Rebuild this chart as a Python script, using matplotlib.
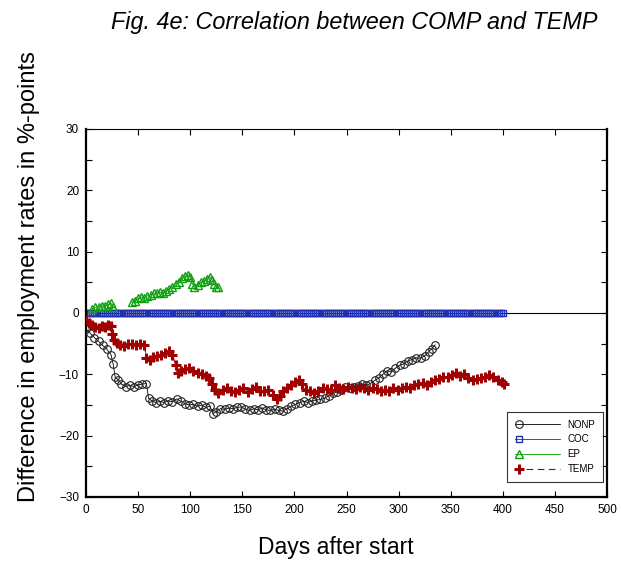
import numpy as np
import matplotlib
matplotlib.use("Agg")
import matplotlib.pyplot as plt
from matplotlib.lines import Line2D
from matplotlib.legend_handler import HandlerLine2D

plt.rcParams['font.family'] = ['Liberation Sans', 'DejaVu Sans']

# NONP series (days, difference in %-points)
nonp_days = [0, 4, 8, 12, 16, 20, 24, 26, 28, 31, 34, 38, 42, 46, 50, 54, 58,
             60, 63, 67, 71, 75, 79, 83, 87, 91, 95, 99, 103, 107, 111, 115, 119,
             122, 125, 129, 133, 137, 141, 145, 149, 153, 157, 161, 165, 169, 173,
             177, 181, 185, 189, 193, 197, 201, 205, 209, 213, 217, 221, 225, 229,
             233, 237, 241, 245, 249, 253, 257, 261, 265, 269, 273, 277, 281, 285,
             289, 293, 297, 301, 305, 309, 313, 317, 321, 325, 329, 332, 335]
nonp_vals = [-2.6, -3.3, -4.0, -4.6, -5.3, -5.9, -6.8, -8.3, -10.5, -10.9, -11.6,
             -12.0, -11.8, -12.0, -11.7, -11.6, -11.5,
             -13.9, -14.3, -14.6, -14.4, -14.6, -14.3, -14.5, -14.0, -14.4, -14.8,
             -15.0, -14.9, -15.2, -15.0, -15.4, -15.2,
             -16.4, -16.1, -15.6, -15.7, -15.5, -15.6, -15.4, -15.3, -15.7, -15.9,
             -15.6, -15.8, -15.5, -15.8, -15.9, -15.7, -15.9, -16.0, -15.6, -15.2,
             -14.9, -14.6, -14.4, -14.6, -14.3, -14.2, -14.1, -13.9, -13.5, -13.1,
             -12.9, -12.6, -12.0, -12.3, -12.0, -11.9, -11.6, -11.8, -11.5, -11.0,
             -10.6, -10.0, -9.4, -9.6, -9.0, -8.5, -8.3, -7.8, -7.6, -7.3, -7.4,
             -7.0, -6.3, -5.8, -5.2]

# COC series: flat at zero up to day 400
coc_days = list(range(0, 401, 2))
coc_vals = [0.0] * len(coc_days)

# EP series (gap between the two stretches)
ep_days = [6, 9, 12, 15, 18, 21, 24, 26, 35, 44, 47, 50, 53, 56, 59, 62, 65, 68,
           71, 74, 77, 80, 83, 86, 89, 92, 95, 98, 100, 102, 104, 107, 110, 113,
           116, 119, 121, 123, 125, 127]
ep_vals = [0.6, 0.9, 1.0, 1.2, 1.1, 1.4, 1.6, 1.0, np.nan, 1.8, 2.0, 2.4, 2.6,
           2.5, 2.8, 3.0, 3.2, 3.3, 3.4, 3.3, 3.6, 3.9, 4.3, 4.8, 5.0, 5.7, 6.0,
           6.2, 5.9, 4.8, 4.2, 4.6, 5.0, 5.2, 5.6, 5.9, 5.4, 4.8, 4.3, 4.2]

# TEMP series
temp_days = [0, 3, 6, 9, 12, 15, 18, 21, 24, 25, 27, 30, 33, 36, 40, 44, 48, 52,
             56, 58, 61, 64, 68, 72, 76, 80, 83, 86, 88, 91, 95, 99, 103, 107, 111,
             115, 118, 121, 124, 127, 131, 135, 139, 143, 147, 151, 155, 159, 163,
             167, 171, 175, 179, 183, 186, 189, 193, 197, 201, 204, 207, 211, 215,
             219, 223, 227, 231, 235, 239, 243, 247, 251, 255, 259, 263, 267, 271,
             275, 279, 283, 287, 291, 295, 299, 303, 307, 311, 315, 319, 323, 327,
             331, 335, 339, 343, 347, 351, 355, 359, 363, 367, 371, 375, 379, 383,
             387, 391, 395, 399, 401]
temp_vals = [-1.2, -1.6, -2.0, -2.3, -2.4, -2.2, -2.3, -2.0, -2.1, -3.5, -4.4,
             -4.9, -5.3, -5.4, -5.0, -5.1, -5.3, -5.0, -5.2, -7.3, -7.6, -7.2,
             -7.0, -6.8, -6.5, -6.2, -6.8, -8.5, -9.8, -9.4, -9.2, -9.0, -9.5,
             -9.8, -10.0, -10.3, -10.6, -11.5, -12.6, -13.0, -12.6, -12.3, -12.7,
             -12.9, -12.6, -12.3, -12.9, -12.4, -12.1, -12.7, -12.8, -12.5, -13.3,
             -14.0, -13.6, -12.8, -12.3, -11.8, -11.3, -11.0, -11.6, -12.6, -12.8,
             -13.0, -12.7, -12.3, -12.4, -12.6, -11.8, -12.2, -12.4, -12.0, -12.2,
             -12.4, -12.0, -12.3, -12.6, -12.2, -12.4, -12.8, -12.5, -12.7, -12.2,
             -12.5, -12.3, -12.0, -12.2, -11.8, -11.6, -11.4, -11.7, -11.3, -11.0,
             -10.8, -10.5, -10.4, -10.1, -9.8, -10.3, -9.9, -10.6, -11.0, -10.8,
             -10.6, -10.4, -10.1, -10.5, -11.0, -11.3, -11.5]


class LeftMarkerHandler(HandlerLine2D):
    # put the legend marker near the left end of the sample line
    def create_artists(self, legend, orig_handle, xdescent, ydescent, width,
                       height, fontsize, trans):
        arts = super().create_artists(legend, orig_handle, xdescent, ydescent,
                                      width, height, fontsize, trans)
        line = arts[0]
        xd = np.asarray(line.get_xdata(), dtype=float)
        yd = np.asarray(line.get_ydata(), dtype=float)
        x0, x1 = xd[0], xd[-1]
        line.set_data([x0, x0 + 0.08 * (x1 - x0), x1], [yd[0]] * 3)
        line.set_markevery([1])
        return arts


fig = plt.figure(figsize=(6.21, 5.62), dpi=100)
ax = fig.add_axes([0.1385, 0.1157, 0.839, 0.6548])

ax.axhline(0, color='black', lw=0.8, zorder=1)

l1, = ax.plot(nonp_days, nonp_vals, color='black', lw=0.6, marker='o', ms=5.5,
              mfc='none', mec='#222222', mew=0.8, label='NONP', zorder=3)
l2, = ax.plot(coc_days, coc_vals, color='#1a1aff', lw=0.6, marker='s', ms=4.5,
              mfc='none', mec='#2030b0', mew=1.0, label='COC', zorder=2)
l3, = ax.plot(ep_days, ep_vals, color='#00a000', lw=0.6, marker='^', ms=6,
              mfc='none', mec='#10a010', mew=1.0, label='EP', zorder=3)
l4, = ax.plot(temp_days, temp_vals, color='#a00000', lw=0.8, ls=(0, (6, 4)),
              marker='+', ms=6.5, mec='#a00000', mew=2.2,
              label='TEMP', zorder=4)

ax.set_xlim(0, 500)
ax.set_ylim(-30, 30)
ax.set_xticks(np.arange(0, 501, 50))
ax.set_yticks(np.arange(-30, 31, 10))
ax.set_yticks(np.arange(-25, 30, 10), minor=True)
ax.tick_params(which='both', direction='in', top=True, right=True,
               labelsize=8.5, length=4, width=0.8, pad=5)
ax.tick_params(which='minor', length=4)

for side in ['left', 'bottom', 'right']:
    ax.spines[side].set_linewidth(1.6)
ax.spines['top'].set_linewidth(0.8)

ax.set_xlabel('Days after start', fontsize=16.5)
ax.xaxis.set_label_coords(0.48, -0.105)
ax.set_ylabel('Difference in employment rates in %-points', fontsize=17)
ax.yaxis.set_label_coords(-0.088, 0.6)

fig.text(0.571, 0.96, 'Fig. 4e: Correlation between COMP and TEMP',
         fontsize=16.8, style='italic', ha='center', va='center')

leg = ax.legend(handles=[l1, l2, l3, l4], loc='lower right',
                bbox_to_anchor=(0.9925, 0.041), borderaxespad=0, fontsize=7,
                frameon=True, fancybox=False, edgecolor='black',
                handlelength=4.6, handletextpad=0.8, borderpad=0.8,
                labelspacing=0.5,
                handler_map={Line2D: LeftMarkerHandler(numpoints=1)})
leg.get_frame().set_linewidth(0.8)

fig.savefig('out.png', dpi=100)
